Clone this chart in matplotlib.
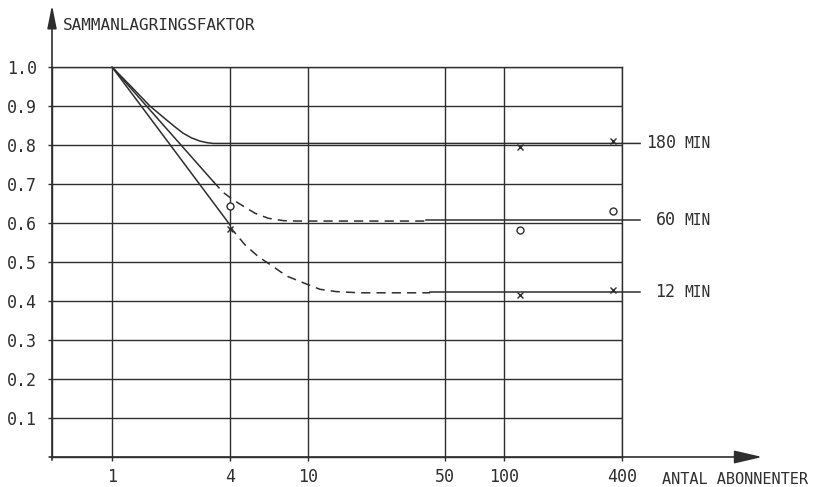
import numpy as np
import matplotlib.pyplot as plt

# Sammanlagringsfaktor mot antal abonnenter
x_ticks = [1, 4, 10, 50, 100, 400]
y_ticks = [0.1, 0.2, 0.3, 0.4, 0.5, 0.6, 0.7, 0.8, 0.9, 1.0]

# 180 min - heldragen hela vägen
x180 = [1, 1.28, 1.56, 1.9, 2.1, 2.31, 2.55, 2.81, 3.05, 3.28, 495]
y180 = [1.0, 0.945, 0.9, 0.864, 0.846, 0.83, 0.818, 0.81, 0.806, 0.804, 0.804]

# 60 min - rak början, streckad böj, heldragen rak del
x60_solid = [1, 3.29]
y60_solid = [1.0, 0.706]
x60_dash = [3.29, 3.70, 4.16, 4.86, 5.37, 6.28, 7.48, 8.74, 40]
y60_dash = [0.706, 0.678, 0.659, 0.638, 0.625, 0.612, 0.606, 0.605, 0.605]
x60_flat = [40, 495]
y60_flat = [0.607, 0.607]

# 12 min
x12_solid = [1, 4]
y12_solid = [1.0, 0.595]
x12_dash = [4, 4.77, 5.57, 6.65, 7.78, 9.65, 11.5, 14.0, 18.4, 42]
y12_dash = [0.59, 0.544, 0.514, 0.488, 0.464, 0.445, 0.43, 0.424, 0.421, 0.421]
x12_flat = [42, 495]
y12_flat = [0.423, 0.423]

# uppmätta punkter
obs180_x = [120, 360]
obs180_y = [0.795, 0.81]
obs60_x = [4, 120, 360]
obs60_y = [0.644, 0.583, 0.63]
obs12_x = [4, 120, 360]
obs12_y = [0.585, 0.415, 0.427]

line_labels = ['180', '60', '12']
label_y = [0.804, 0.607, 0.423]
label_gap = [4, 11, 11]   # points from line end to number

ink = '#2e2e2e'
mono = 'DejaVu Sans Mono'

fig = plt.figure(figsize=(8.24, 4.87), dpi=100)
ax = fig.add_axes([52 / 824, 30 / 487, 570 / 824, 390 / 487])
ax.set_xscale('log')
ax.set_xlim(0.494, 400)
ax.set_ylim(0, 1.0)

# grid
ax.set_xticks(x_ticks)
ax.set_xticklabels([str(t) for t in x_ticks])
ax.xaxis.set_minor_locator(plt.NullLocator())
ax.set_yticks(y_ticks)
ax.set_yticklabels([f'{t:.1f}' for t in y_ticks])
ax.grid(True, color=ink, lw=1.0)
for s in ax.spines.values():
    s.set_color(ink)
    s.set_linewidth(1.0)
ax.tick_params(axis='both', length=3, width=1.0, color=ink, labelcolor=ink,
               labelsize=12, pad=8)
ax.tick_params(axis='x', pad=5)
for lab in ax.get_xticklabels() + ax.get_yticklabels():
    lab.set_family(mono)

# curves
lw = 1.1
dash = (0, (6, 4))
ax.plot(x180, y180, color=ink, lw=lw, clip_on=False)
ax.plot(x60_solid, y60_solid, color=ink, lw=lw)
ax.plot(x60_dash, y60_dash, color=ink, lw=lw, linestyle=dash)
ax.plot(x60_flat, y60_flat, color=ink, lw=lw, clip_on=False)
ax.plot(x12_solid, y12_solid, color=ink, lw=lw)
ax.plot(x12_dash, y12_dash, color=ink, lw=lw, linestyle=dash)
ax.plot(x12_flat, y12_flat, color=ink, lw=lw, clip_on=False)

# measured points
ax.plot(obs180_x, obs180_y, 'x', color=ink, ms=4, mew=1.0, clip_on=False)
ax.plot(obs12_x, obs12_y, 'x', color=ink, ms=4, mew=1.0, clip_on=False)
ax.plot(obs60_x, obs60_y, 'o', mfc='white', mec=ink, ms=5, mew=1.0, clip_on=False)

# line labels
for lab, yv, gap in zip(line_labels, label_y, label_gap):
    ax.annotate(lab, xy=(495, yv), xytext=(gap, 0), textcoords='offset points',
                va='center', ha='left', fontsize=12, family=mono, color=ink,
                annotation_clip=False)
    ax.annotate('MIN', xy=(495, yv), xytext=(32, 0), textcoords='offset points',
                va='center', ha='left', fontsize=10.5, family=mono, color=ink,
                annotation_clip=False)

# axis arrows
ax.annotate('', xy=(0, 1.159), xytext=(0, -0.008), xycoords='axes fraction',
            arrowprops=dict(arrowstyle='-|>,head_length=0.7,head_width=0.14',
                            mutation_scale=20, lw=1.2, color=ink,
                            shrinkA=0, shrinkB=0))
ax.annotate('', xy=(1.246, 0), xytext=(-0.005, 0), xycoords='axes fraction',
            arrowprops=dict(arrowstyle='-|>,head_length=0.86,head_width=0.2',
                            mutation_scale=20, lw=1.2, color=ink,
                            shrinkA=0, shrinkB=0))

fig.text(63 / 824, 1 - 25 / 487, 'SAMMANLAGRINGSFAKTOR', family=mono,
         fontsize=11.5, color=ink, va='center', ha='left')
fig.text(662 / 824, 1 - 479 / 487, 'ANTAL ABONNENTER', family=mono,
         fontsize=11, color=ink, va='center', ha='left')

fig.savefig('out.png', dpi=100)
